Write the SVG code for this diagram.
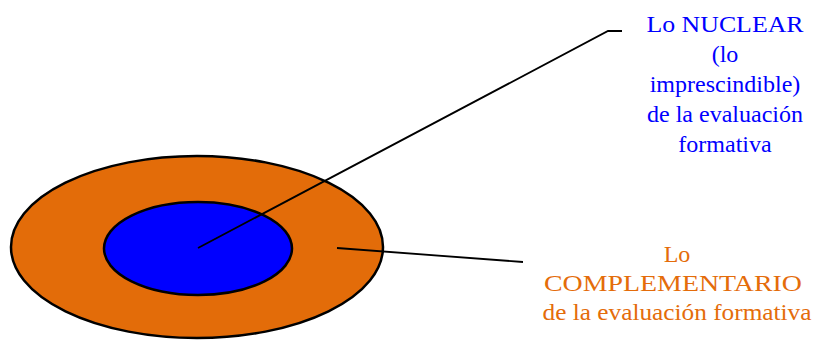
<svg xmlns="http://www.w3.org/2000/svg" width="814" height="341" viewBox="0 0 814 341">
<style>
.e{stroke:#000;stroke-width:2.5}
.c{fill:none;stroke:#000;stroke-width:1.8}
.t{font-family:"Liberation Serif","Times New Roman",serif;font-size:24px;text-anchor:middle}
.b{fill:#0000FF}
.o{fill:#E46C0A}
</style>
<rect width="814" height="341" fill="#fff"/>
<g id="complementario">
<ellipse class="e" cx="197" cy="247" rx="186" ry="91" fill="#E36C09"/>
</g>
<g id="nuclear">
<ellipse class="e" cx="198" cy="248.5" rx="94" ry="46.5" fill="#0000FF"/>
</g>
<g id="connectors">
<polyline class="c" points="198,248 608,31 622,31"/>
<polyline class="c" points="337,248 523,262"/>
</g>
<g id="label-nuclear" class="t b">
<text x="725" y="32" textLength="157" lengthAdjust="spacingAndGlyphs">Lo NUCLEAR</text>
<text x="725" y="62">(lo</text>
<text x="725" y="92">imprescindible)</text>
<text x="725" y="122">de la evaluación</text>
<text x="725" y="152">formativa</text>
</g>
<g id="label-complementario" class="t o">
<text x="677" y="262">Lo</text>
<text x="673" y="291" textLength="258" lengthAdjust="spacingAndGlyphs">COMPLEMENTARIO</text>
<text x="677" y="320" textLength="269" lengthAdjust="spacingAndGlyphs">de la evaluación formativa</text>
</g>
</svg>
